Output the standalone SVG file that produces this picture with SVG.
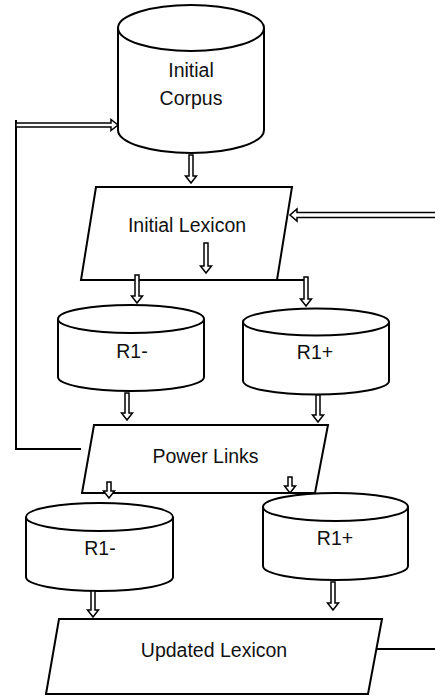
<svg xmlns="http://www.w3.org/2000/svg" width="435" height="697" viewBox="0 0 435 697">
  <style>
    .shape { fill: #fff; stroke: #000; stroke-width: 2; stroke-linejoin: miter; }
    .line { fill: none; stroke: #000; stroke-width: 2; }
    .arrow { fill: #fff; stroke: #000; stroke-width: 1.5; stroke-linejoin: miter; }
    .label { font-family: "Liberation Sans", Arial, sans-serif; font-size: 19.5px; fill: #111; text-anchor: middle; }
  </style>
  <rect width="435" height="697" fill="#fff"/>

  <g id="initial-corpus">
    <path class="shape" d="M118,28 V130 A73,23 0 0 0 264,130 V28"/>
    <ellipse class="shape" cx="191" cy="28" rx="73" ry="23"/>
    <text class="label" x="191" y="77">Initial</text>
    <text class="label" x="191" y="105">Corpus</text>
  </g>

  <g id="initial-lexicon">
    <polygon class="shape" points="96,187 292,187 277,280 81,280"/>
    <text class="label" x="187" y="232">Initial Lexicon</text>
  </g>

  <g id="r1-minus-a">
    <path class="shape" d="M58,319 V377 A73,14 0 0 0 204,377 V319"/>
    <ellipse class="shape" cx="131" cy="319" rx="73" ry="14"/>
    <text class="label" x="132" y="358">R1-</text>
  </g>

  <g id="r1-plus-a">
    <path class="shape" d="M243,322 V381 A73,13.5 0 0 0 389,381 V322"/>
    <ellipse class="shape" cx="316" cy="322" rx="73" ry="13.5"/>
    <text class="label" x="315" y="359">R1+</text>
  </g>

  <g id="power-links">
    <polygon class="shape" points="94,425 328,425 315,493 82,493"/>
    <text class="label" x="205.5" y="463">Power Links</text>
  </g>

  <g id="r1-minus-b">
    <path class="shape" d="M26,517 V577 A73.5,14 0 0 0 173,577 V517"/>
    <ellipse class="shape" cx="99.5" cy="517" rx="73.5" ry="14"/>
    <text class="label" x="100" y="555">R1-</text>
  </g>

  <g id="r1-plus-b">
    <path class="shape" d="M263,507 V566 A72.5,14 0 0 0 408,566 V507"/>
    <ellipse class="shape" cx="335.5" cy="507" rx="72.5" ry="14"/>
    <text class="label" x="335" y="545">R1+</text>
  </g>

  <g id="updated-lexicon">
    <polygon class="shape" points="59,619 382,619 368,694 46,694"/>
    <text class="label" x="214" y="657">Updated Lexicon</text>
  </g>

  <g id="connectors">
    <!-- feedback loop from Power Links back to the corpus -->
    <polyline class="line" points="81,449 16,449 16,120"/>
    <path class="arrow" d="M16,123 H111 V119.5 L118,125 L111,130.5 V127 H16 Z"/>
    <!-- incoming loop from the right into Initial Lexicon -->
    <path class="arrow" d="M436,212.5 H297 V209 L290,215 L297,221 V217.5 H436 Z"/>
    <!-- outgoing line from Updated Lexicon -->
    <line class="line" x1="377" y1="649" x2="436" y2="649"/>
    <!-- extension of Initial Lexicon base toward R1+ -->
    <line class="line" x1="277" y1="280" x2="306" y2="280"/>

    <!-- hollow block arrows pointing down -->
    <path class="arrow" d="M189,155 H193 V176 H196.5 L191,183 L185.5,176 H189 Z"/>
    <path class="arrow" d="M204,243 H208 V266 H211.5 L206,273 L200.5,266 H204 Z"/>
    <path class="arrow" d="M135,275 H139 V296 H142.5 L137,303 L131.5,296 H135 Z"/>
    <path class="arrow" d="M304,277 H308 V299 H311.5 L306,306 L300.5,299 H304 Z"/>
    <path class="arrow" d="M125,393 H129 V413 H132.5 L127,420 L121.5,413 H125 Z"/>
    <path class="arrow" d="M316,395 H320 V415 H323.5 L318,422 L312.5,415 H316 Z"/>
    <path class="arrow" d="M107,482 H111 V491 H114.5 L109,498 L103.5,491 H107 Z"/>
    <path class="arrow" d="M288,477 H292 V486 H295.5 L290,493 L284.5,486 H288 Z"/>
    <path class="arrow" d="M91,591 H95 V610 H98.5 L93,617 L87.5,610 H91 Z"/>
    <path class="arrow" d="M331,582 H335 V603 H338.5 L333,610 L327.5,603 H331 Z"/>
  </g>
</svg>
